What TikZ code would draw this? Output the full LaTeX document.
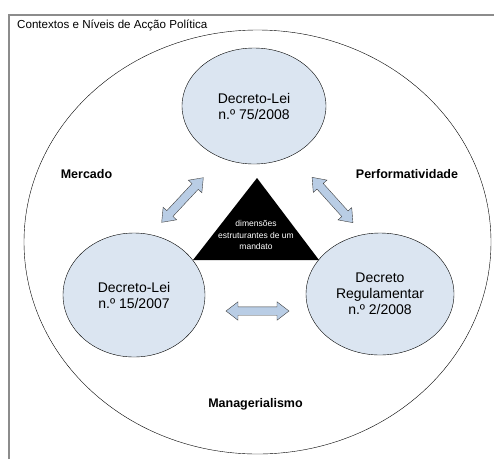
\documentclass[tikz,border=0pt]{standalone}
\usepackage{fontspec}
\setmainfont{Liberation Sans}
\usetikzlibrary{shapes.geometric,shapes.arrows}

\definecolor{circ}{HTML}{DBE5F1}
\definecolor{setaazul}{HTML}{B9CDE5}

\begin{document}
\begin{tikzpicture}[x=1pt, y=-1pt, font=\fontsize{14}{16}\selectfont,
	   decreto/.style={draw, ellipse, fill=circ, align=center, inner sep=0pt},
	   seta/.style={double arrow, draw=black!75, fill=setaazul,
	     inner xsep=0pt, inner ysep=4pt, minimum width=18pt, minimum height=61pt,
	     double arrow head extend=5pt, double arrow tip angle=75},
	   eixo/.style={font=\fontsize{12.5}{14}\selectfont\bfseries}]
	  \useasboundingbox (0,0) rectangle (495,459);
	  % moldura e titulo
	  \draw[gray!90, line width=1.4pt] (9,459) -- (9,15) -- (494,15);
	  \node[anchor=west, inner sep=0pt, font=\fontsize{11.6}{13}\selectfont] (tit) at (17,25) {Contextos e Níveis de Acção Política};
	  \node[draw, ellipse, minimum width=467pt, minimum height=424pt, inner sep=0pt] (ctx) at (257.5,242) {};
	  % decretos
	  \node[decreto, minimum width=144pt, minimum height=116pt] (dl75) at (254,106) {Decreto-Lei\\ n.º 75/2008};
	  \node[decreto, minimum width=142pt, minimum height=124pt] (dl15) at (134,295) {Decreto-Lei\\ n.º 15/2007};
	  \node[decreto, minimum width=148pt, minimum height=122pt] (dr2) at (380,294) {Decreto\\ Regulamentar\\ n.º 2/2008};
	  % triangulo central
	  \coordinate (tA) at (257,178);
	  \coordinate (tB) at (193,260);
	  \coordinate (tC) at (319,260);
	  \fill (tA) -- (tB) -- (tC) -- cycle;
	  \node[text=white, align=center, font=\fontsize{8.5}{11.5}\selectfont] (dim) at (256,235) {dimensões\\ estruturantes de um\\ mandato};
	  % setas
	  \node[seta, rotate=47] (s1) at (182.5,200) {};
	  \node[seta, rotate=-48] (s2) at (332.5,200) {};
	  \node[seta, minimum height=63pt] (s3) at (257.5,311) {};
	  % contextos
	  \node[eixo] (merc) at (86.5,174) {Mercado};
	  \node[eixo] (perf) at (407,174) {Performatividade};
	  \node[eixo] (man) at (255.5,404) {Managerialismo};
	\end{tikzpicture}
\end{document}
